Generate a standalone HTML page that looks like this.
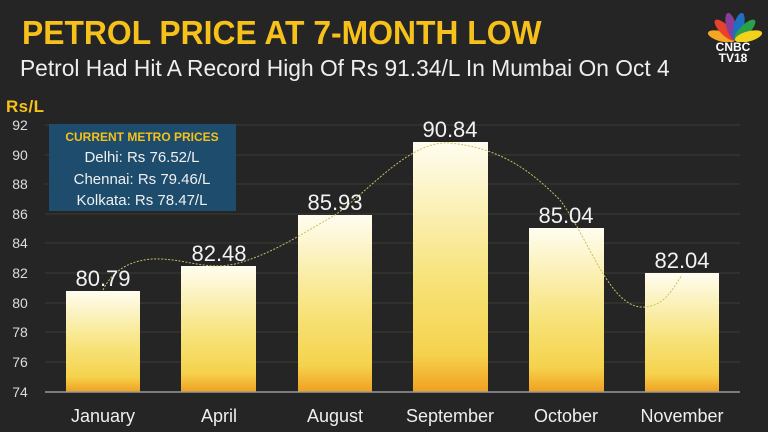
<!DOCTYPE html><html><head><style>
body{margin:0;width:768px;height:432px;background:#252525;overflow:hidden;font-family:"Liberation Sans",sans-serif;position:relative}
.t{position:absolute;white-space:nowrap;transform-origin:0 0}
</style></head><body>
<div class="t" style="left:22px;top:14px;font-size:33px;font-weight:bold;color:#f6c11a;transform:scaleX(0.965)">PETROL PRICE AT 7-MONTH LOW</div>
<div class="t" style="left:20px;top:55px;font-size:23px;color:#eee;transform:scaleX(0.99)">Petrol Had Hit A Record High Of Rs 91.34/L In Mumbai On Oct 4</div>
<div class="t" style="left:705px;top:42px;font-size:12px;font-weight:bold;color:#fff;line-height:11px;text-align:center;width:56px">CNBC<br>TV18</div>
<svg style="position:absolute;left:708px;top:10px" width="54" height="32" viewBox="0 0 54 32">
<g transform="translate(27,30)">
<ellipse rx="5" ry="14" transform="rotate(-75) translate(0,-14)" fill="#f5a623"/>
<ellipse rx="5" ry="14" transform="rotate(-45) translate(0,-14)" fill="#e8412c"/>
<ellipse rx="5" ry="14" transform="rotate(-15) translate(0,-14)" fill="#8a3d96"/>
<ellipse rx="5" ry="14" transform="rotate(15) translate(0,-14)" fill="#1f6fc1"/>
<ellipse rx="5" ry="14" transform="rotate(45) translate(0,-14)" fill="#2aa04a"/>
<ellipse rx="5" ry="14" transform="rotate(75) translate(0,-14)" fill="#f3d21b"/>
</g></svg>
<svg style="position:absolute;left:0;top:0" width="768" height="432">
<defs><linearGradient id="g" x1="0" y1="0" x2="0" y2="1">
<stop offset="0" stop-color="#fffdf0"/><stop offset="0.55" stop-color="#f7e37a"/><stop offset="0.85" stop-color="#f5d24d"/><stop offset="1" stop-color="#f0a020"/></linearGradient></defs>
<text x="6" y="112" font-size="17" font-weight="bold" fill="#f6c11a" textLength="38">Rs/L</text>
<g stroke="#3a3a32" stroke-width="1">
<line x1="45" x2="740" y1="125" y2="125"/><line x1="45" x2="740" y1="155" y2="155"/><line x1="45" x2="740" y1="184" y2="184"/><line x1="45" x2="740" y1="214" y2="214"/><line x1="45" x2="740" y1="243" y2="243"/><line x1="45" x2="740" y1="273" y2="273"/><line x1="45" x2="740" y1="303" y2="303"/><line x1="45" x2="740" y1="332" y2="332"/><line x1="45" x2="740" y1="362" y2="362"/></g>
<g font-size="14" fill="#ddd" text-anchor="middle">
<text x="20" y="130">92</text><text x="20" y="160">90</text><text x="20" y="189">88</text><text x="20" y="219">86</text><text x="20" y="248">84</text><text x="20" y="278">82</text><text x="20" y="308">80</text><text x="20" y="337">78</text><text x="20" y="367">76</text><text x="20" y="397">74</text></g>
<rect x="66" y="291" width="74" height="101" fill="url(#g)"/>
<rect x="181" y="266" width="75" height="126" fill="url(#g)"/>
<rect x="298" y="215" width="74" height="177" fill="url(#g)"/>
<rect x="413" y="142" width="75" height="250" fill="url(#g)"/>
<rect x="529" y="228" width="75" height="164" fill="url(#g)"/>
<rect x="645" y="273" width="74" height="119" fill="url(#g)"/>
<line x1="45" x2="740" y1="392" y2="392" stroke="#999" stroke-width="1.5"/>
<path d="M103,290 C115,265 140,258 160,259 C190,260 205,270 235,264 C270,255 300,235 335,215 C370,190 410,140 450,143 C500,148 530,170 560,200 C590,240 610,310 645,307 C665,305 672,290 682,275" fill="none" stroke="#c8c060" stroke-width="1" stroke-dasharray="2,1.5"/>
<g font-size="22" fill="#f2f2f2" text-anchor="middle">
<text x="103" y="286">80.79</text><text x="219" y="261">82.48</text><text x="335" y="210">85.93</text><text x="450" y="137">90.84</text><text x="566" y="223">85.04</text><text x="682" y="268">82.04</text></g>
<g font-size="18" fill="#eee" text-anchor="middle">
<text x="103" y="422">January</text><text x="219" y="422">April</text><text x="335" y="422">August</text><text x="450" y="422">September</text><text x="566" y="422">October</text><text x="682" y="422">November</text></g>
<rect x="49" y="124" width="187" height="87" fill="#1e4c6c"/>
<text x="142" y="141" font-size="12" font-weight="bold" fill="#f6c11a" text-anchor="middle">CURRENT METRO PRICES</text>
<g font-size="15" fill="#f0f0f0" text-anchor="middle">
<text x="142" y="162">Delhi: Rs 76.52/L</text><text x="142" y="184">Chennai: Rs 79.46/L</text><text x="142" y="205">Kolkata: Rs 78.47/L</text></g>
</svg>
</body></html>
